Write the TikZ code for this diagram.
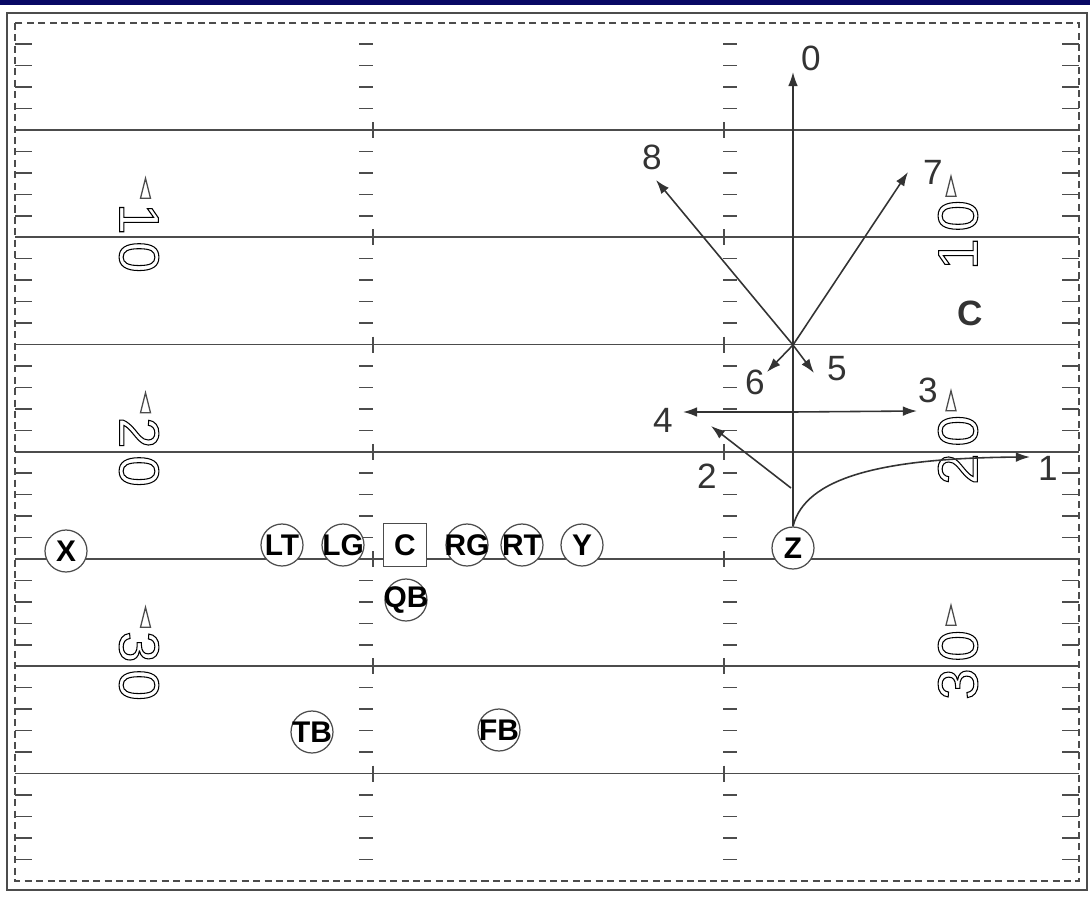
\documentclass[tikz,border=0pt]{standalone}
\usepackage{fontspec}
\setmainfont{Liberation Sans}
\usetikzlibrary{arrows.meta}

\definecolor{fieldline}{gray}{0.3}
\definecolor{topbar}{RGB}{8,8,100}

\newcommand\hollow[1]{\special{pdf:literal direct 0.6 w 1 Tr}#1\special{pdf:literal direct 0 Tr}}

\begin{document}
\begin{tikzpicture}[
  x=0.02cm, y=-0.02cm, >={Latex[length=8pt,width=5.5pt]},
  yardline/.style={line width=0.9pt, color=fieldline},
  tick/.style={line width=0.9pt, color=fieldline},
  sideline/.style={line width=0.9pt, color=fieldline, dash pattern=on 4pt off 2.5pt},
  player/.style={draw=fieldline, circle, fill=white, line width=0.7pt,
                 minimum size=0.84cm, inner sep=-5pt,
                 font=\fontsize{17}{17}\selectfont\bfseries},
  snap/.style={player, rectangle, minimum size=0.86cm},
  route/.style={->, line width=0.9pt, color=black!80},
  num/.style={font=\fontsize{20}{20}\selectfont, text=black!80, inner sep=0pt},
  yardnum/.style={font=\fontsize{32}{32}\selectfont, inner sep=0pt},
  pointer/.style={draw=fieldline, fill=white, line width=0.7pt},
]
\useasboundingbox (0,0) rectangle (1090,906);
\fill[topbar] (0,0) rectangle (1090,5);
\draw[line width=1.1pt, color=fieldline] (7,13) rectangle (1087,890);
\draw[sideline] (15,22.75) rectangle (1079,881);

\foreach \k in {0,...,7}
  \foreach \j in {1,...,4} {
    \pgfmathsetmacro\yy{22.75+107.25*\k+21.45*\j}
    \draw[tick] (15,\yy) -- (32,\yy) (359,\yy) -- (373,\yy)
                (723,\yy) -- (737,\yy) (1062,\yy) -- (1079,\yy);
  }
\foreach \k in {1,...,7} {
  \pgfmathsetmacro\yy{22.75+107.25*\k}
  \draw[yardline] (15,\yy) -- (1079,\yy);
  \draw[tick] (373,\yy-8) -- (373,\yy+8) (724,\yy-8) -- (724,\yy+8);
}

\node[yardnum, rotate=-90] (n10l) at (139,238) {\hollow{1\kern4pt0}};
\node[yardnum, rotate=-90] (n20l) at (139,452) {\hollow{2\kern4pt0}};
\node[yardnum, rotate=-90] (n30l) at (139,666) {\hollow{3\kern4pt0}};
\node[yardnum, rotate=90]  (n10r) at (958,235) {\hollow{1\kern4pt0}};
\node[yardnum, rotate=90]  (n20r) at (958,450) {\hollow{2\kern4pt0}};
\node[yardnum, rotate=90]  (n30r) at (958,665) {\hollow{3\kern4pt0}};
\foreach \yy in {237.25,451.75,666.25} {
  \draw[pointer] (140.5,\yy-39) -- (145.5,\yy-59) -- (150.5,\yy-39) -- cycle;
  \draw[pointer] (946,\yy-41) -- (951,\yy-61) -- (956,\yy-41) -- cycle;
}

\node[player] (x)  at (66,551)  {X};
\node[player] (lt) at (282,545) {LT};
\node[player] (lg) at (343,545) {LG};
\node[snap]   (c)  at (405,545) {C};
\node[player] (rg) at (467,545) {RG};
\node[player] (rt) at (522,545) {RT};
\node[player] (y)  at (582,545) {Y};
\node[player] (z)  at (793,548) {Z};
\node[player] (qb) at (406,600) {QB};
\node[player] (tb) at (312,732) {TB};
\node[player] (fb) at (499,730) {FB};

\coordinate (brk) at (793,345);
\coordinate (out) at (793,412);
\coordinate (r2s) at (791,488);
\coordinate (r0) at (793,72);
\coordinate (r1) at (1030,457);
\coordinate (r2) at (711,426);
\coordinate (r3) at (917,411);
\coordinate (r4) at (683,412);
\coordinate (r5) at (814,373);
\coordinate (r6) at (767,372);
\coordinate (r7) at (908,172);
\coordinate (r8) at (656,180);

\node[num] (l0) at (811,58)   {0};
\node[num] (l1) at (1048,468) {1};
\node[num] (l2) at (707,476)  {2};
\node[num] (l3) at (928,390)  {3};
\node[num] (l4) at (663,420)  {4};
\node[num] (l5) at (837,369)  {5};
\node[num] (l6) at (755,382)  {6};
\node[num] (l7) at (933,172)  {7};
\node[num] (l8) at (652,157)  {8};
\node[num, font=\fontsize{20}{20}\selectfont\bfseries] (cov) at (970,313) {C};

\draw[route] (z.north) -- (r0);
\draw[route] (z.north) .. controls (805,478) and (880,458) .. (r1);
\draw[route] (r2s) -- (r2);
\draw[route] (out) -- (r3);
\draw[route] (out) -- (r4);
\draw[route] (brk) -- (r5);
\draw[route] (brk) -- (r6);
\draw[route] (brk) -- (r7);
\draw[route] (brk) -- (r8);
\end{tikzpicture}
\end{document}
